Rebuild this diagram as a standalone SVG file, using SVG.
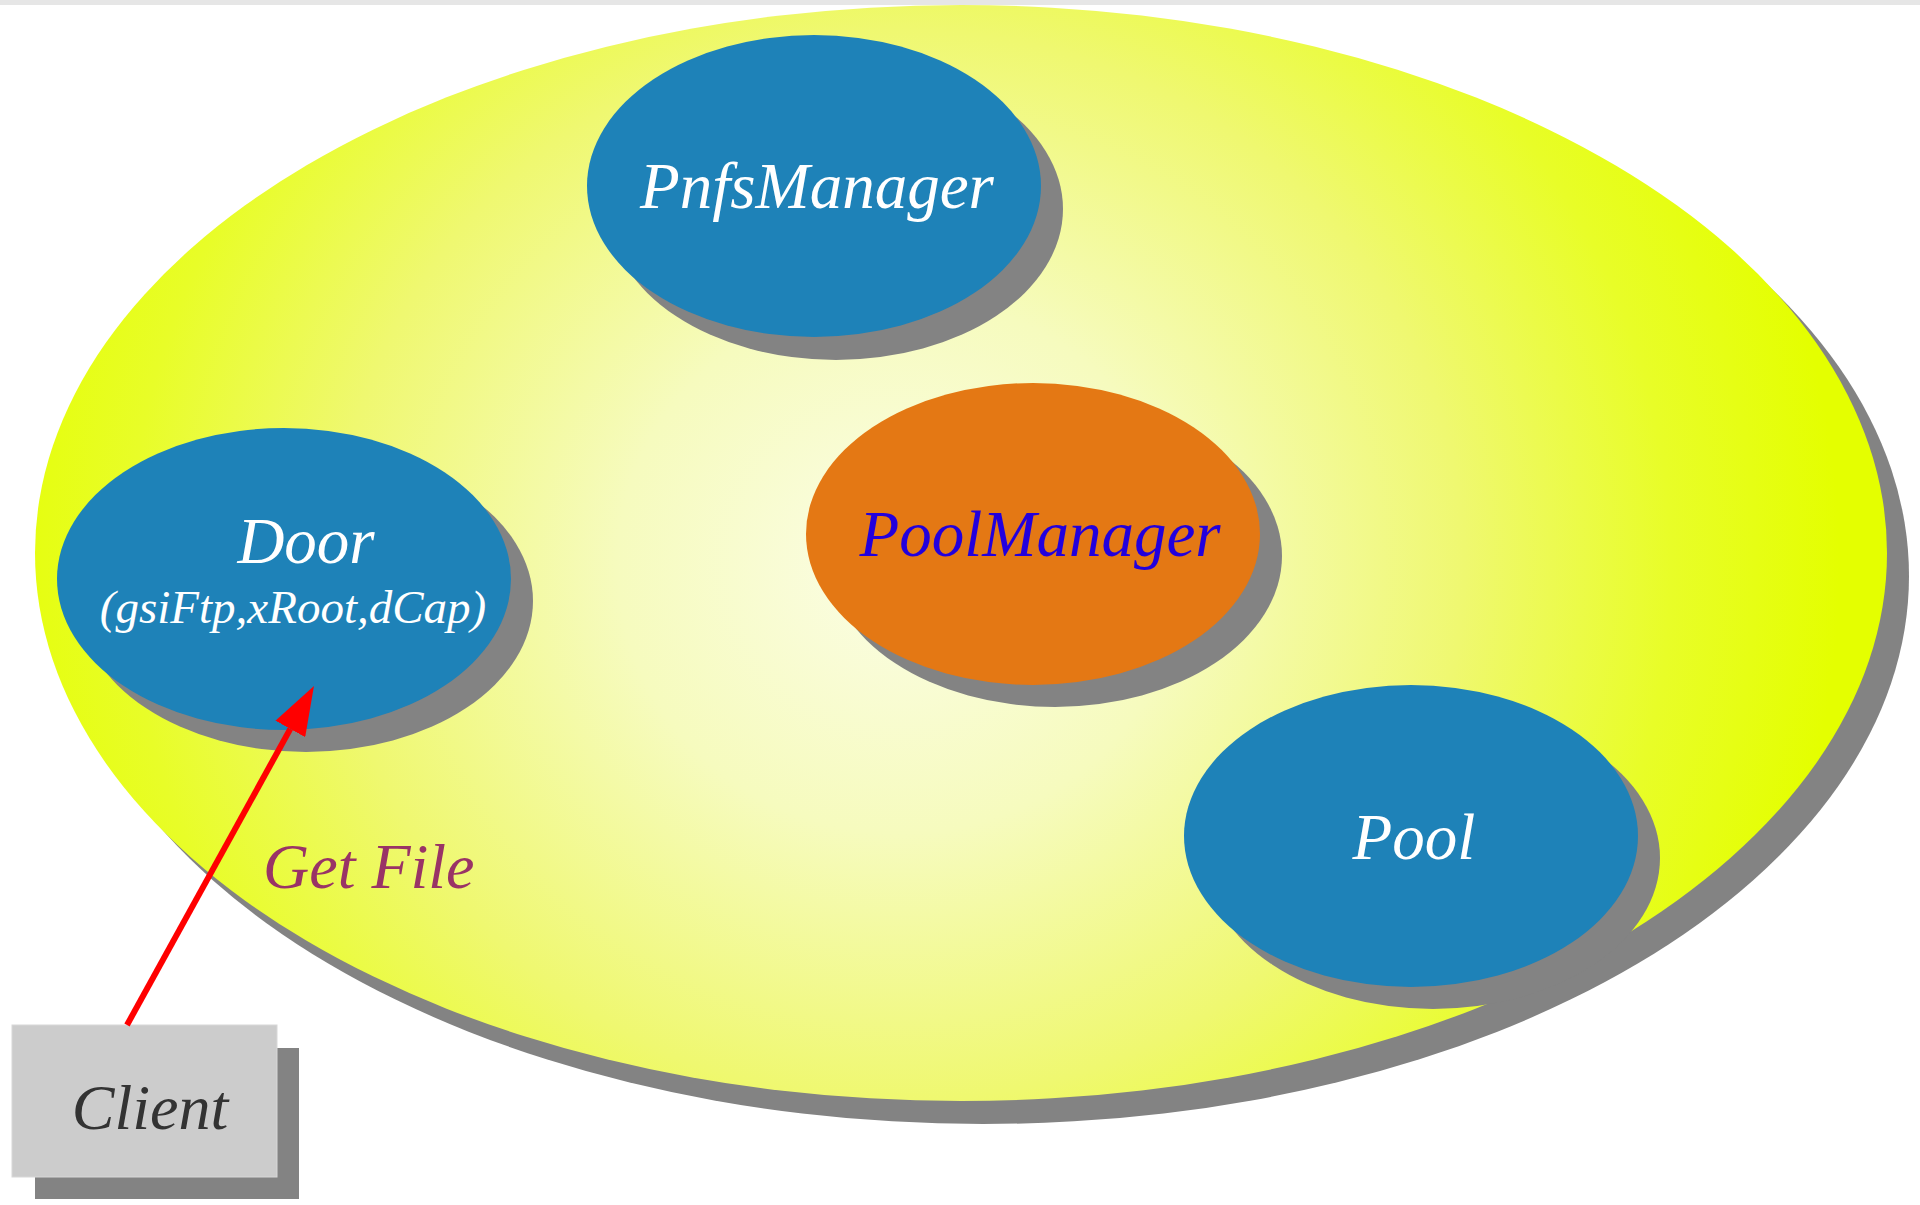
<svg xmlns="http://www.w3.org/2000/svg" width="1920" height="1205" viewBox="0 0 1920 1205">
<style>
.shadow{fill:#838383}
.blue{fill:#1e82b8}
.orange{fill:#e47814}
.lbl{font-family:"Liberation Serif","Times New Roman",serif;font-style:italic;text-anchor:middle}
.white{fill:#ffffff}
</style>
<defs>
<radialGradient id="bg" gradientUnits="userSpaceOnUse" cx="900" cy="565" r="940" gradientTransform="translate(900 565) scale(1 0.95) translate(-900 -565)">
<stop offset="0" stop-color="#fbfde6"/>
<stop offset="0.3" stop-color="#f6fbbe"/>
<stop offset="0.6" stop-color="#eff870"/>
<stop offset="0.82" stop-color="#e8fd28"/>
<stop offset="1" stop-color="#e4ff00"/>
</radialGradient>
<marker id="arrow" markerUnits="userSpaceOnUse" viewBox="0 -17 49 34" markerWidth="49" markerHeight="34" refX="0" refY="0" orient="auto">
<path d="M0,-17 L49,0 L0,17 z" fill="#ff0000"/>
</marker>
</defs>
<rect x="0" y="0" width="1920" height="1205" fill="#ffffff"/>
<rect x="0" y="0" width="1920" height="5" fill="#e6e6e6"/>
<g id="domain">
<ellipse class="shadow" cx="983" cy="576" rx="926" ry="548"/>
<ellipse cx="961" cy="553" rx="926" ry="548" fill="url(#bg)"/>
</g>
<g id="pnfsmanager">
<ellipse class="shadow" cx="836" cy="209" rx="227" ry="151"/>
<ellipse class="blue" cx="814" cy="186" rx="227" ry="151"/>
<text class="lbl white" x="817" y="208" font-size="65">PnfsManager</text>
</g>
<g id="door">
<ellipse class="shadow" cx="306" cy="601" rx="227" ry="151"/>
<ellipse class="blue" cx="284" cy="579" rx="227" ry="151"/>
<text class="lbl white" x="306" y="563" font-size="65">Door</text>
<text class="lbl white" x="293" y="623" font-size="47">(gsiFtp,xRoot,dCap)</text>
</g>
<g id="poolmanager">
<ellipse class="shadow" cx="1055" cy="556" rx="227" ry="151"/>
<ellipse class="orange" cx="1033" cy="534" rx="227" ry="151"/>
<text class="lbl" x="1040" y="556" font-size="65" fill="#2200dd">PoolManager</text>
</g>
<g id="pool">
<ellipse class="shadow" cx="1433" cy="858" rx="227" ry="151"/>
<ellipse class="blue" cx="1411" cy="836" rx="227" ry="151"/>
<text class="lbl white" x="1414" y="859" font-size="65">Pool</text>
</g>
<g id="client">
<rect class="shadow" x="35" y="1048" width="264" height="151"/>
<rect x="12" y="1025" width="265" height="152" fill="#cccccc" stroke="#d8d8d8" stroke-width="1"/>
<text class="lbl" x="150" y="1129" font-size="64" fill="#333333">Client</text>
</g>
<g id="connectors">
<line x1="127" y1="1025" x2="290.3" y2="728.9" stroke="#ff0000" stroke-width="6" marker-end="url(#arrow)"/>
<text x="263" y="888" font-family="Liberation Serif, Times New Roman, serif" font-style="italic" font-size="64" fill="#993366">Get File</text>
</g>
</svg>
